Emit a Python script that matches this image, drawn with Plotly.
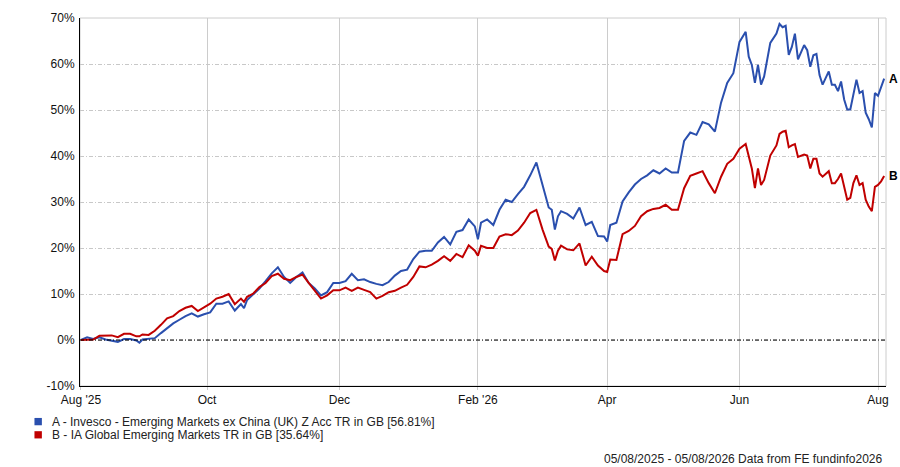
import plotly.graph_objects as go

# trading-day index since 05/08/2025 (weekdays only)
day = [0, 2, 4, 6, 8, 10, 12, 14, 16, 18, 19, 20, 22, 24, 26, 28, 30, 32, 34, 36,
       38, 40, 42, 44, 46, 48, 50, 52, 53, 54, 56, 58, 60, 62, 64, 66, 68, 70, 72, 74,
       76, 78, 80, 82, 84, 86, 88, 90, 92, 94, 96, 98, 100, 102, 104, 106, 108, 110, 112, 114,
       116, 118, 120, 122, 124, 126, 128, 129, 130, 132, 134, 136, 138, 140, 142, 144, 146, 148, 150, 152,
       153, 154, 155, 156, 158, 160, 162, 164, 166, 168, 170, 171, 172, 174, 176, 178, 180, 182, 184, 186,
       188, 190, 192, 194, 196, 198, 200, 202, 204, 206, 208, 210, 212, 214, 216, 217, 218, 219, 220, 221,
       222, 224, 226, 227, 228, 229, 230, 231, 232, 233, 235, 236, 237, 238, 239, 240, 241, 243, 244, 245,
       246, 247, 248, 249, 250, 251, 252, 253, 254, 255, 256, 257, 258, 259, 260, 261]

fund_a = [0.0, 0.6, 0.2, 0.6, 0.1, -0.1, -0.4, 0.2, 0.2, -0.1, -0.6, 0.1, 0.2, 0.4, 1.5, 2.6, 3.6, 4.4, 5.2, 5.8,
          5.1, 5.6, 6.0, 7.9, 7.9, 8.4, 6.4, 7.8, 6.9, 8.7, 9.9, 11.2, 12.8, 14.5, 15.8, 13.7, 12.4, 13.7, 14.7, 12.4,
          11.2, 9.7, 10.4, 12.4, 12.4, 12.8, 14.4, 13.0, 13.2, 12.6, 12.2, 11.9, 12.6, 14.0, 15.0, 15.3, 17.6, 19.2, 19.4, 19.4,
          21.2, 22.4, 20.8, 23.5, 23.9, 26.2, 24.7, 21.9, 25.5, 26.2, 25.0, 28.3, 30.5, 30.0, 31.7, 33.3, 35.8, 38.6, 33.7, 28.8,
          28.3, 24.0, 26.9, 28.0, 27.4, 26.4, 28.8, 25.0, 25.7, 22.6, 22.5, 21.4, 25.0, 25.5, 30.1, 32.1, 33.8, 35.0, 35.8, 36.9,
          36.2, 37.3, 36.4, 36.4, 43.3, 45.1, 44.6, 47.4, 46.9, 45.3, 51.6, 55.9, 58.0, 64.8, 67.0, 61.6, 59.8, 55.9, 59.8, 55.5,
          57.3, 64.6, 66.6, 68.7, 68.0, 68.3, 62.0, 63.7, 66.6, 61.0, 64.1, 63.0, 59.4, 61.9, 62.2, 57.6, 55.5, 58.4, 55.5, 55.5,
          54.1, 56.2, 52.3, 50.1, 50.1, 53.4, 56.6, 53.7, 54.1, 49.4, 48.0, 46.2, 53.7, 53.1, 55.0, 56.81]

sector_b = [0.0, 0.1, 0.1, 0.9, 0.9, 1.0, 0.6, 1.35, 1.35, 0.8, 0.8, 1.2, 1.1, 2.0, 3.3, 4.7, 5.2, 6.3, 7.0, 7.4,
            6.3, 7.1, 7.9, 9.0, 9.4, 10.0, 7.8, 9.0, 8.3, 9.4, 10.1, 11.5, 12.4, 13.9, 14.4, 13.3, 13.0, 13.7, 14.2, 12.4,
            10.8, 9.0, 9.7, 10.8, 10.8, 11.4, 10.7, 11.4, 10.9, 10.4, 9.0, 9.6, 10.4, 10.7, 11.4, 12.0, 13.7, 16.0, 15.8, 16.4,
            17.2, 18.2, 17.2, 18.7, 18.0, 20.6, 19.4, 18.3, 20.5, 20.0, 20.0, 22.5, 23.0, 22.8, 23.8, 25.5, 27.6, 28.3, 24.0, 20.3,
            19.8, 17.3, 19.4, 20.5, 19.7, 19.5, 21.0, 16.2, 18.1, 16.2, 15.0, 14.8, 17.5, 17.4, 23.0, 23.7, 24.8, 26.9, 28.0, 28.5,
            28.7, 29.4, 28.3, 28.3, 33.0, 35.7, 36.2, 36.7, 34.1, 31.9, 35.5, 38.3, 39.4, 41.6, 42.6, 40.1, 37.3, 33.0, 37.3, 33.7,
            34.8, 40.1, 42.3, 44.8, 45.3, 45.5, 41.9, 42.3, 42.6, 39.8, 40.3, 40.1, 37.3, 39.4, 39.4, 36.2, 35.5, 36.7, 34.1, 34.1,
            35.0, 36.2, 33.0, 30.5, 30.9, 34.1, 35.8, 33.7, 34.1, 30.5, 29.0, 28.0, 33.3, 33.7, 34.5, 35.64]

names = ["A - Invesco - Emerging Markets ex China (UK) Z Acc TR in GB [56.81%]",
         "B - IA Global Emerging Markets TR in GB [35.64%]"]
short = ["A", "B"]
colours = ["#2a4fae", "#c00000"]

tick_days = [0, 41, 84, 129, 171, 214, 259]
tick_text = ["Aug '25", "Oct", "Dec", "Feb '26", "Apr", "Jun", "Aug"]

pct_vals = [-10, 0, 10, 20, 30, 40, 50, 60, 70]
pct_text = ["-10%", "0%", "10%", "20%", "30%", "40%", "50%", "60%", "70%"]

font = "Arial, Liberation Sans, sans-serif"

fig = go.Figure()
for vals, col in zip([fund_a, sector_b], colours):
    fig.add_trace(go.Scatter(x=day, y=vals, mode="lines",
                             line=dict(color=col, width=2), showlegend=False))

fig.update_layout(
    width=900, height=467,
    margin=dict(l=80, r=11, t=14, b=81),
    plot_bgcolor="white", paper_bgcolor="white",
    font=dict(family=font, size=12, color="#111"),
)
fig.update_xaxes(
    range=[-0.3, 261.6], tickvals=tick_days, ticktext=tick_text,
    showgrid=True, gridcolor="#cccccc", gridwidth=1,
    showline=True, linecolor="black", linewidth=1,
    ticks="outside", ticklen=3, tickcolor="#cccccc", zeroline=False,
)
fig.update_yaxes(
    range=[-10, 70], tickvals=pct_vals, ticktext=pct_text,
    showgrid=True, gridcolor="#c8c8c8", griddash="4px,2px,1px,2px",
    showline=True, linecolor="black", linewidth=1,
    ticks="outside", ticklen=2, tickcolor="rgba(0,0,0,0)", zeroline=False,
)

# plot frame and zero line
fig.add_shape(type="rect", xref="paper", yref="paper", x0=0, x1=1, y0=0, y1=1,
              line=dict(color="#cccccc", width=1), layer="below")
fig.add_shape(type="line", xref="paper", yref="y", x0=0, x1=1, y0=0, y1=0,
              line=dict(color="black", width=1, dash="4px,2px,1px,2px"))

# end labels
for lab, vals in zip(short, [fund_a, sector_b]):
    fig.add_annotation(x=day[-1], y=vals[-1], text="<b>%s</b>" % lab, showarrow=False,
                       xanchor="left", xshift=3, font=dict(size=12, color="black"))

# legend below the plot
key_y = [(-0.0868, -0.1067), (-0.1228, -0.1425)]
text_y = [-0.0968, -0.1331]
for nm, col, (y1, y0), ty in zip(names, colours, key_y, text_y):
    fig.add_shape(type="rect", xref="paper", yref="paper", x0=-0.0565, x1=-0.0473,
                  y0=y0, y1=y1, fillcolor=col, line=dict(width=0))
    fig.add_annotation(xref="paper", yref="paper", x=-0.0371, y=ty, text=nm,
                       showarrow=False, xanchor="left", yanchor="middle",
                       font=dict(size=12, color="#222"))

fig.add_annotation(xref="paper", yref="paper", x=0.9988, y=-0.199,
                   text="05/08/2025 - 05/08/2026 Data from FE fundinfo2026",
                   showarrow=False, xanchor="right", yanchor="middle",
                   font=dict(size=12, color="#222"))

# page body has a default margin; drop it so the figure sits at 0,0
fig.write_html("out.html", config={"displayModeBar": False},
               post_script="document.body.style.margin='0';")
